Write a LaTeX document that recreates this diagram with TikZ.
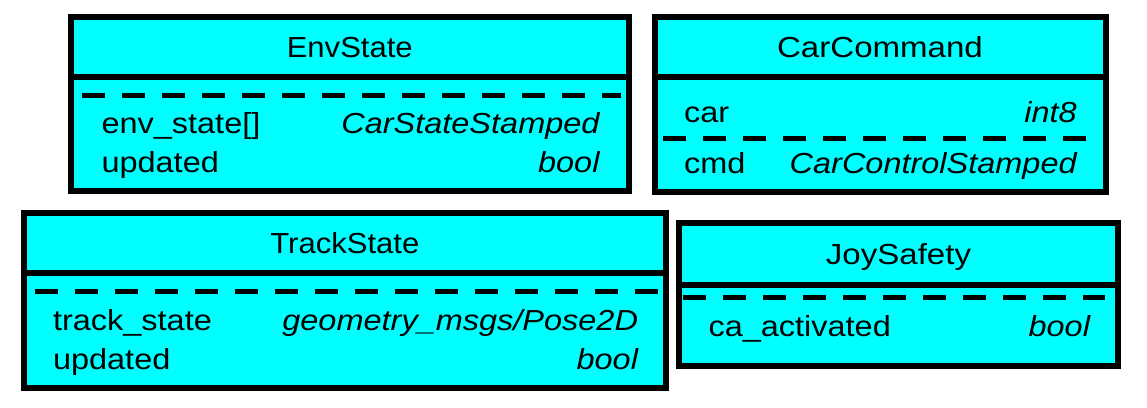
\documentclass[tikz,border=0pt]{standalone}
\usepackage{fontspec}
\setmainfont{Liberation Sans}[FakeStretch=1.12]
\newfontfamily\widetitle{Liberation Sans}[FakeStretch=1.14]
\newfontfamily\narrowtitle{Liberation Sans}[FakeStretch=1.07]
\definecolor{boxfill}{RGB}{0,255,255}
\begin{document}
\begin{tikzpicture}[x=1pt,y=-1pt,
  box/.style={draw=black, line width=6pt, fill=boxfill, inner sep=0pt, outer sep=0pt, anchor=north west},
  sepline/.style={line width=6pt},
  dashsep/.style={line width=5pt, dash pattern=on 23pt off 17pt},
  lbl/.style={inner sep=0pt, outer sep=0pt, font=\fontsize{29}{34}\selectfont},
  ttl/.style={lbl, anchor=base},
  fld/.style={lbl, anchor=base west},
  typ/.style={lbl, anchor=base east, font=\fontsize{29}{34}\selectfont\itshape},
]
\useasboundingbox (0,0) rectangle (1147,407);

% ---------- EnvState ----------
\node[box, minimum width=557.5pt, minimum height=174pt] (env) at (71,17) {};
\coordinate (envdiv) at (0,77);
\coordinate (envdl) at (82,95);
\coordinate (envdr) at (621,95);
\draw[sepline] (env.west |- envdiv) -- (env.east |- envdiv);
\draw[dashsep] (envdl) -- (envdr);
\node[ttl, font=\fontsize{29}{34}\narrowtitle] (envt) at (349.75,57.3) {EnvState};
\node[fld] (envf1) at (101.5,133.3) {env\_state[]};
\node[typ] (envy1) at (599.5,133.3) {CarStateStamped};
\node[fld] (envf2) at (101.5,172.7) {updated};
\node[typ] (envy2) at (599.5,172.7) {bool};

% ---------- CarCommand ----------
\node[box, minimum width=451pt, minimum height=174.5pt] (cc) at (654.5,17) {};
\coordinate (ccdiv) at (0,77);
\coordinate (ccdl) at (663,138);
\coordinate (ccdr) at (1105,138);
\draw[sepline] (cc.west |- ccdiv) -- (cc.east |- ccdiv);
\draw[dashsep] (ccdl) -- (ccdr);
\node[ttl, font=\fontsize{29}{34}\widetitle] (cct) at (880,57.3) {CarCommand};
\node[fld] (ccf1) at (684,122.3) {car};
\node[typ] (ccy1) at (1076.7,122.3) {int8};
\node[fld] (ccf2) at (684,173.3) {cmd};
\node[typ] (ccy2) at (1076.7,173.3) {CarControlStamped};

% ---------- TrackState ----------
\node[box, minimum width=642.3pt, minimum height=175pt] (ts) at (23.7,213) {};
\coordinate (tsdiv) at (0,273);
\coordinate (tsdl) at (35,291);
\coordinate (tsdr) at (658,291);
\draw[sepline] (ts.west |- tsdiv) -- (ts.east |- tsdiv);
\draw[dashsep] (tsdl) -- (tsdr);
\node[ttl, font=\fontsize{29}{34}\narrowtitle] (tst) at (344.85,253.3) {TrackState};
\node[fld] (tsf1) at (53,330) {track\_state};
\node[typ] (tsy1) at (638,330) {geometry\_msgs/Pose2D};
\node[fld] (tsf2) at (53,369.3) {updated};
\node[typ] (tsy2) at (638,369.3) {bool};

% ---------- JoySafety ----------
\node[box, minimum width=439pt, minimum height=143pt] (js) at (679,223) {};
\coordinate (jsdiv) at (0,285);
\coordinate (jsdl) at (683,297);
\coordinate (jsdr) at (1105,297);
\draw[sepline] (js.west |- jsdiv) -- (js.east |- jsdiv);
\draw[dashsep] (jsdl) -- (jsdr);
\node[ttl, font=\fontsize{29}{34}\widetitle] (jst) at (898.5,264.3) {JoySafety};
\node[fld] (jsf1) at (708.5,336) {ca\_activated};
\node[typ] (jsy1) at (1090,336) {bool};
\end{tikzpicture}
\end{document}
